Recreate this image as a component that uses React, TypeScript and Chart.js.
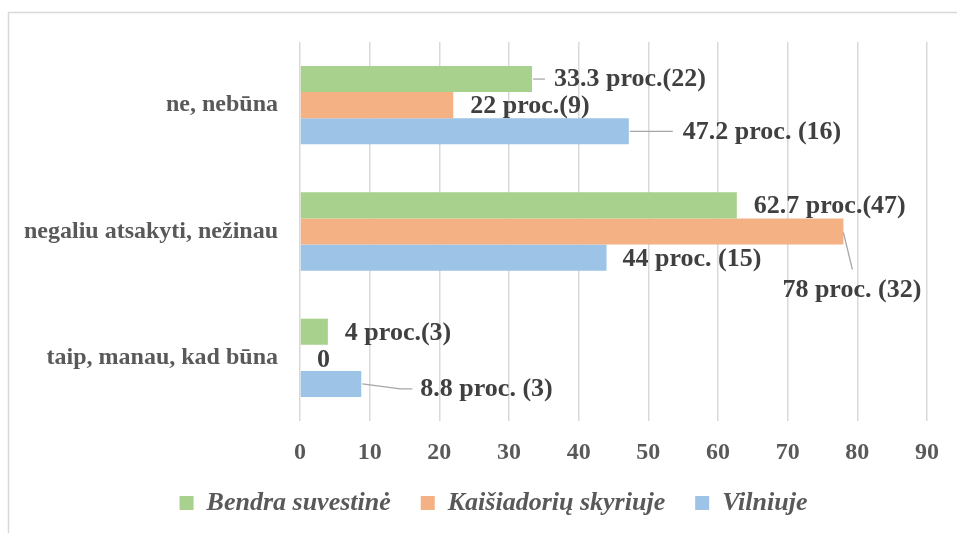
import React, { useEffect, useRef } from "react";
import { Chart, registerables } from "chart.js";

Chart.register(...registerables);

// ---- data ----
const categories = ["ne, nebūna", "negaliu atsakyti, nežinau", "taip, manau, kad būna"];
const seriesNames = ["Bendra suvestinė", "Kaišiadorių skyriuje", "Vilniuje"];
const bendraValues = [33.3, 62.7, 4];
const kaisiadoriuValues = [22, 78, 0];
const vilniujeValues = [47.2, 44, 8.8];
const bendraLabels = ["33.3 proc.(22)", "62.7 proc.(47)", "4 proc.(3)"];
const kaisiadoriuLabels = ["22 proc.(9)", "78 proc. (32)", "0"];
const vilniujeLabels = ["47.2 proc. (16)", "44 proc. (15)", "8.8 proc. (3)"];
const xMin = 0;
const xMax = 90;
const xStep = 10;

// ---- styling ----
const seriesColors = ["#a9d18e", "#f4b183", "#9dc3e6"];
const FONT = '"Liberation Serif", "Times New Roman", serif';

type Placement = { dx: number; dy: number; leader?: number[][] };
// label placement relative to the bar end (x) and bar centre (y)
const placements: Placement[][] = [
  [
    { dx: 22, dy: 0, leader: [[1, 0], [13, 0]] },
    { dx: 17, dy: 1 },
    { dx: 17, dy: 2 },
  ],
  [
    { dx: 17, dy: 1.5 },
    { dx: -61, dy: 59, leader: [[0, 1], [9, 38]] },
    { dx: 17, dy: 2 },
  ],
  [
    { dx: 54, dy: 1.5, leader: [[1, 0], [44, 0]] },
    { dx: 16, dy: 2 },
    { dx: 59, dy: 5, leader: [[1, 0], [39, 5], [51, 5]] },
  ],
];

const labelTexts = [bendraLabels, kaisiadoriuLabels, vilniujeLabels];

const backgroundPlugin = {
  id: "bgBorder",
  afterLayout(chart: any) {
    // let the category labels use the whole left margin (avoid clipping)
    const y = chart.scales.y;
    if (y) y.left = 0;
  },
  beforeDraw(chart: any) {
    const { ctx, width, height } = chart;
    ctx.save();
    ctx.fillStyle = "#ffffff";
    ctx.fillRect(0, 0, width, height);
    ctx.strokeStyle = "#d9d9d9";
    ctx.lineWidth = 1.5;
    ctx.beginPath();
    ctx.moveTo(8.5, height + 5);
    ctx.lineTo(8.5, 12.5);
    ctx.lineTo(width + 5, 12.5);
    ctx.stroke();
    ctx.restore();
  },
};

const dataLabelPlugin = {
  id: "dataLabels",
  afterDatasetsDraw(chart: any) {
    const { ctx } = chart;
    ctx.save();
    chart.data.datasets.forEach((ds: any, di: number) => {
      const meta = chart.getDatasetMeta(di);
      meta.data.forEach((el: any, i: number) => {
        const p = placements[di][i];
        const x = el.x;
        const y = el.y;
        if (p.leader) {
          ctx.strokeStyle = "#a6a6a6";
          ctx.lineWidth = 1.25;
          ctx.beginPath();
          p.leader.forEach((pt, k) => {
            if (k === 0) ctx.moveTo(x + pt[0], y + pt[1]);
            else ctx.lineTo(x + pt[0], y + pt[1]);
          });
          ctx.stroke();
        }
        ctx.fillStyle = "#404040";
        ctx.font = `bold 26px ${FONT}`;
        ctx.textAlign = "left";
        ctx.textBaseline = "middle";
        ctx.fillText(labelTexts[di][i], x + p.dx, y + p.dy);
      });
    });
    ctx.restore();
  },
};

export default function App() {
  const canvasRef = useRef<HTMLCanvasElement | null>(null);

  useEffect(() => {
    document.body.style.margin = "0";
    document.body.style.overflow = "hidden";
    const canvas = canvasRef.current;
    if (!canvas) return;
    const chart = new Chart(canvas, {
      type: "bar",
      data: {
        labels: categories,
        datasets: [
          { label: seriesNames[0], data: bendraValues, backgroundColor: seriesColors[0] },
          { label: seriesNames[1], data: kaisiadoriuValues, backgroundColor: seriesColors[1] },
          { label: seriesNames[2], data: vilniujeValues, backgroundColor: seriesColors[2] },
        ],
      },
      options: {
        indexAxis: "y",
        responsive: false,
        animation: false,
        events: [],
        datasets: {
          bar: { categoryPercentage: 0.62, barPercentage: 1 },
        },
        layout: { padding: { left: 60, right: 30, top: 42, bottom: 7 } },
        scales: {
          x: {
            min: xMin,
            max: xMax,
            ticks: {
              stepSize: xStep,
              padding: 17,
              color: "#595959",
              font: { family: FONT, size: 24, weight: "bold" },
            },
            grid: { color: "#d9d9d9", lineWidth: 1.5, drawTicks: false },
            border: { display: false },
            afterFit: (scale: any) => {
              scale.height = 39;
            },
          },
          y: {
            ticks: {
              padding: 22,
              color: "#595959",
              font: { family: FONT, size: 24, weight: "bold" },
            },
            grid: { display: false, drawTicks: false },
            border: { display: false },
            afterFit: (scale: any) => {
              scale.width = 240;
            },
          },
        },
        plugins: {
          tooltip: { enabled: false },
          legend: {
            position: "bottom",
            labels: {
              boxWidth: 14,
              boxHeight: 14,
              padding: 30,
              color: "#595959",
              font: { family: FONT, size: 26, weight: "bold", style: "italic" },
            },
          },
        },
      },
      plugins: [backgroundPlugin, dataLabelPlugin],
    } as any);
    return () => chart.destroy();
  }, []);

  return (
    <div style={{ width: 957, height: 533 }}>
      <canvas ref={canvasRef} width={957} height={533} style={{ display: "block" }} />
    </div>
  );
}
